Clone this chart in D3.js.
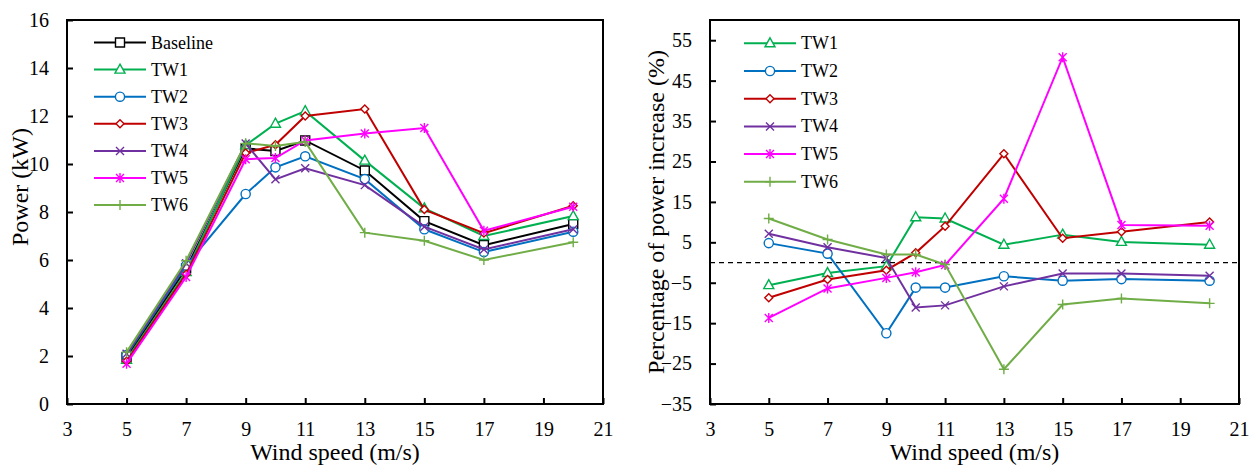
<!DOCTYPE html>
<html>
<head>
<meta charset="utf-8">
<script src="https://cdn.jsdelivr.net/npm/d3@7"></script>
<style>
  body { margin: 0; background: #fff; }
</style>
</head>
<body>
<div id="chart"></div>
<script>
'use strict';

// ---- data ----
const windSpeeds = [5, 7, 9, 10, 11, 13, 15, 17, 20];
const xTicks = [3, 5, 7, 9, 11, 13, 15, 17, 19, 21];
const powerTicks = [0, 2, 4, 6, 8, 10, 12, 14, 16];
const percentTicks = [-35, -25, -15, -5, 5, 15, 25, 35, 45, 55];

// power (kW)
const powerBaseline = [1.95, 5.65, 10.65, 10.54, 10.98, 9.73, 7.62, 6.62, 7.5];
const powerTW1 = [1.84, 5.5, 10.78, 11.68, 12.2, 10.14, 8.15, 7.0, 7.83];
const powerTW2 = [2.04, 5.77, 8.75, 9.86, 10.32, 9.37, 7.28, 6.33, 7.18];
const powerTW3 = [1.78, 5.41, 10.46, 10.8, 12.0, 12.29, 8.1, 7.12, 8.26];
const powerTW4 = [2.09, 5.86, 10.85, 9.36, 9.82, 9.12, 7.39, 6.44, 7.28];
const powerTW5 = [1.68, 5.29, 10.2, 10.25, 10.98, 11.27, 11.5, 7.22, 8.22];
const powerTW6 = [2.16, 5.97, 10.86, 10.75, 10.92, 7.14, 6.8, 6.0, 6.74];

// percentage of power increase (%)
const percentTW1 = [-5.6, -2.6, -0.9, 11.2, 10.9, 4.4, 6.9, 5.1, 4.4];
const percentTW2 = [4.8, 2.2, -17.5, -6.2, -6.2, -3.4, -4.5, -4.1, -4.5];
const percentTW3 = [-8.7, -4.2, -1.9, 2.4, 9.0, 26.9, 6.0, 7.6, 10.0];
const percentTW4 = [7.1, 3.8, 1.1, -11.1, -10.6, -5.9, -2.7, -2.7, -3.3];
const percentTW5 = [-13.7, -6.4, -3.8, -2.4, -0.6, 15.8, 50.8, 9.3, 9.1];
const percentTW6 = [10.9, 5.7, 2.0, 2.0, -0.5, -26.4, -10.4, -8.9, -10.1];

// ---- styles ----
const serif = '"Times New Roman", Times, "Liberation Serif", Tinos, "DejaVu Serif", serif';
const colors = {
    Baseline: "#000000", TW1: "#00b050", TW2: "#0070c0", TW3: "#c00000",
    TW4: "#7030a0", TW5: "#ff00ff", TW6: "#70ad47"
};
const markers = {
    Baseline: "square", TW1: "triangle", TW2: "circle", TW3: "diamond",
    TW4: "x", TW5: "asterisk", TW6: "plus"
};

function markerPath(type) {
    switch (type) {
        case "square": return "M-4.5,-4.5H4.5V4.5H-4.5Z";
        case "triangle": return "M0,-5.5L5,3.5H-5Z";
        case "circle": return "M4.6,0A4.6,4.6 0 1 1 -4.6,0A4.6,4.6 0 1 1 4.6,0Z";
        case "diamond": return "M0,-4L4,0L0,4L-4,0Z";
        case "x": return "M-4,-4L4,4M-4,4L4,-4";
        case "asterisk": return "M-4,-4L4,4M-4,4L4,-4M0,-5V5";
        case "plus": return "M-5,0H5M0,-5V5";
    }
}

const W = 1254, H = 466;
const svg = d3.select("#chart").append("svg")
    .attr("width", W)
    .attr("height", H)
    .style("font-family", serif);

function drawPanel(opts) {
    const x = d3.scaleLinear().domain([3, 21]).range([opts.left, opts.right]);
    const y = d3.scaleLinear().domain(opts.yDomain).range([404, 20]);
    const g = svg.append("g");

    // x axis (inward ticks)
    const xAxis = g.append("g")
        .attr("transform", `translate(0,404)`)
        .call(d3.axisBottom(x).tickValues(xTicks).tickFormat(d3.format("d"))
            .tickSizeInner(-6).tickSizeOuter(0).tickPadding(18));
    // y axis
    const yAxis = g.append("g")
        .attr("transform", `translate(${opts.left},0)`)
        .call(d3.axisLeft(y).tickValues(opts.yTicks).tickFormat(d3.format("d"))
            .tickSizeInner(-6).tickSizeOuter(0).tickPadding(18));
    [xAxis, yAxis].forEach(a => {
        a.attr("font-family", null).attr("font-size", null);
        a.select(".domain").remove();
        a.selectAll(".tick line").attr("stroke", "#000").attr("stroke-width", 2);
        a.selectAll(".tick text").attr("fill", "#000").style("font-size", "20px");
    });

    // frame
    g.append("rect")
        .attr("x", opts.left).attr("y", 20)
        .attr("width", opts.right - opts.left).attr("height", 384)
        .attr("fill", "none").attr("stroke", "#000").attr("stroke-width", 2);

    if (opts.zeroLine) {
        g.append("line")
            .attr("x1", opts.left).attr("x2", opts.right)
            .attr("y1", y(0)).attr("y2", y(0))
            .attr("stroke", "#000").attr("stroke-width", 1.3)
            .attr("stroke-dasharray", "5,4");
    }

    const line = d3.line().x(d => x(d[0])).y(d => y(d[1]));

    opts.series.forEach(s => {
        const pts = windSpeeds.map((w, i) => [w, s.values[i]]);
        g.append("path")
            .datum(pts)
            .attr("d", line)
            .attr("fill", "none")
            .attr("stroke", colors[s.name])
            .attr("stroke-width", 2);
        g.selectAll(null)
            .data(pts)
            .enter()
            .append("path")
            .attr("transform", d => `translate(${x(d[0])},${y(d[1])})`)
            .attr("d", markerPath(markers[s.name]))
            .attr("fill", "#fff")
            .attr("stroke", colors[s.name])
            .attr("stroke-width", 1.4);
    });

    // legend
    const legend = g.append("g");
    opts.series.forEach((s, i) => {
        const ly = opts.legendTop + i * opts.legendStep;
        const lx = opts.legendLeft;
        legend.append("line")
            .attr("x1", lx).attr("x2", lx + 52)
            .attr("y1", ly).attr("y2", ly)
            .attr("stroke", colors[s.name]).attr("stroke-width", 2);
        legend.append("path")
            .attr("transform", `translate(${lx + 26},${ly})`)
            .attr("d", markerPath(markers[s.name]))
            .attr("fill", "#fff")
            .attr("stroke", colors[s.name]).attr("stroke-width", 1.4);
        legend.append("text")
            .attr("x", lx + 57).attr("y", ly + 6)
            .style("font-size", "18px")
            .text(s.name);
    });

    // axis titles
    g.append("text")
        .attr("x", (opts.left + opts.right) / 2).attr("y", 460)
        .attr("text-anchor", "middle")
        .style("font-size", "24px")
        .text("Wind speed (m/s)");
    g.append("text")
        .attr("transform", `translate(${opts.titleX},${opts.titleY}) rotate(-90)`)
        .attr("text-anchor", "middle")
        .attr("dy", "0.3em")
        .style("font-size", "24px")
        .text(opts.yTitle);
}

drawPanel({
    left: 67, right: 603,
    yDomain: [0, 16], yTicks: powerTicks,
    yTitle: "Power (kW)", titleX: 21, titleY: 187,
    legendLeft: 94, legendTop: 42.5, legendStep: 27.1,
    series: [
        { name: "Baseline", values: powerBaseline },
        { name: "TW1", values: powerTW1 },
        { name: "TW2", values: powerTW2 },
        { name: "TW3", values: powerTW3 },
        { name: "TW4", values: powerTW4 },
        { name: "TW5", values: powerTW5 },
        { name: "TW6", values: powerTW6 }
    ]
});

drawPanel({
    left: 710, right: 1239,
    yDomain: [-35, 60], yTicks: percentTicks, zeroLine: true,
    yTitle: "Percentage of power increase (%)", titleX: 657, titleY: 212,
    legendLeft: 744, legendTop: 43.3, legendStep: 27.7,
    series: [
        { name: "TW1", values: percentTW1 },
        { name: "TW2", values: percentTW2 },
        { name: "TW3", values: percentTW3 },
        { name: "TW4", values: percentTW4 },
        { name: "TW5", values: percentTW5 },
        { name: "TW6", values: percentTW6 }
    ]
});
</script>
</body>
</html>
